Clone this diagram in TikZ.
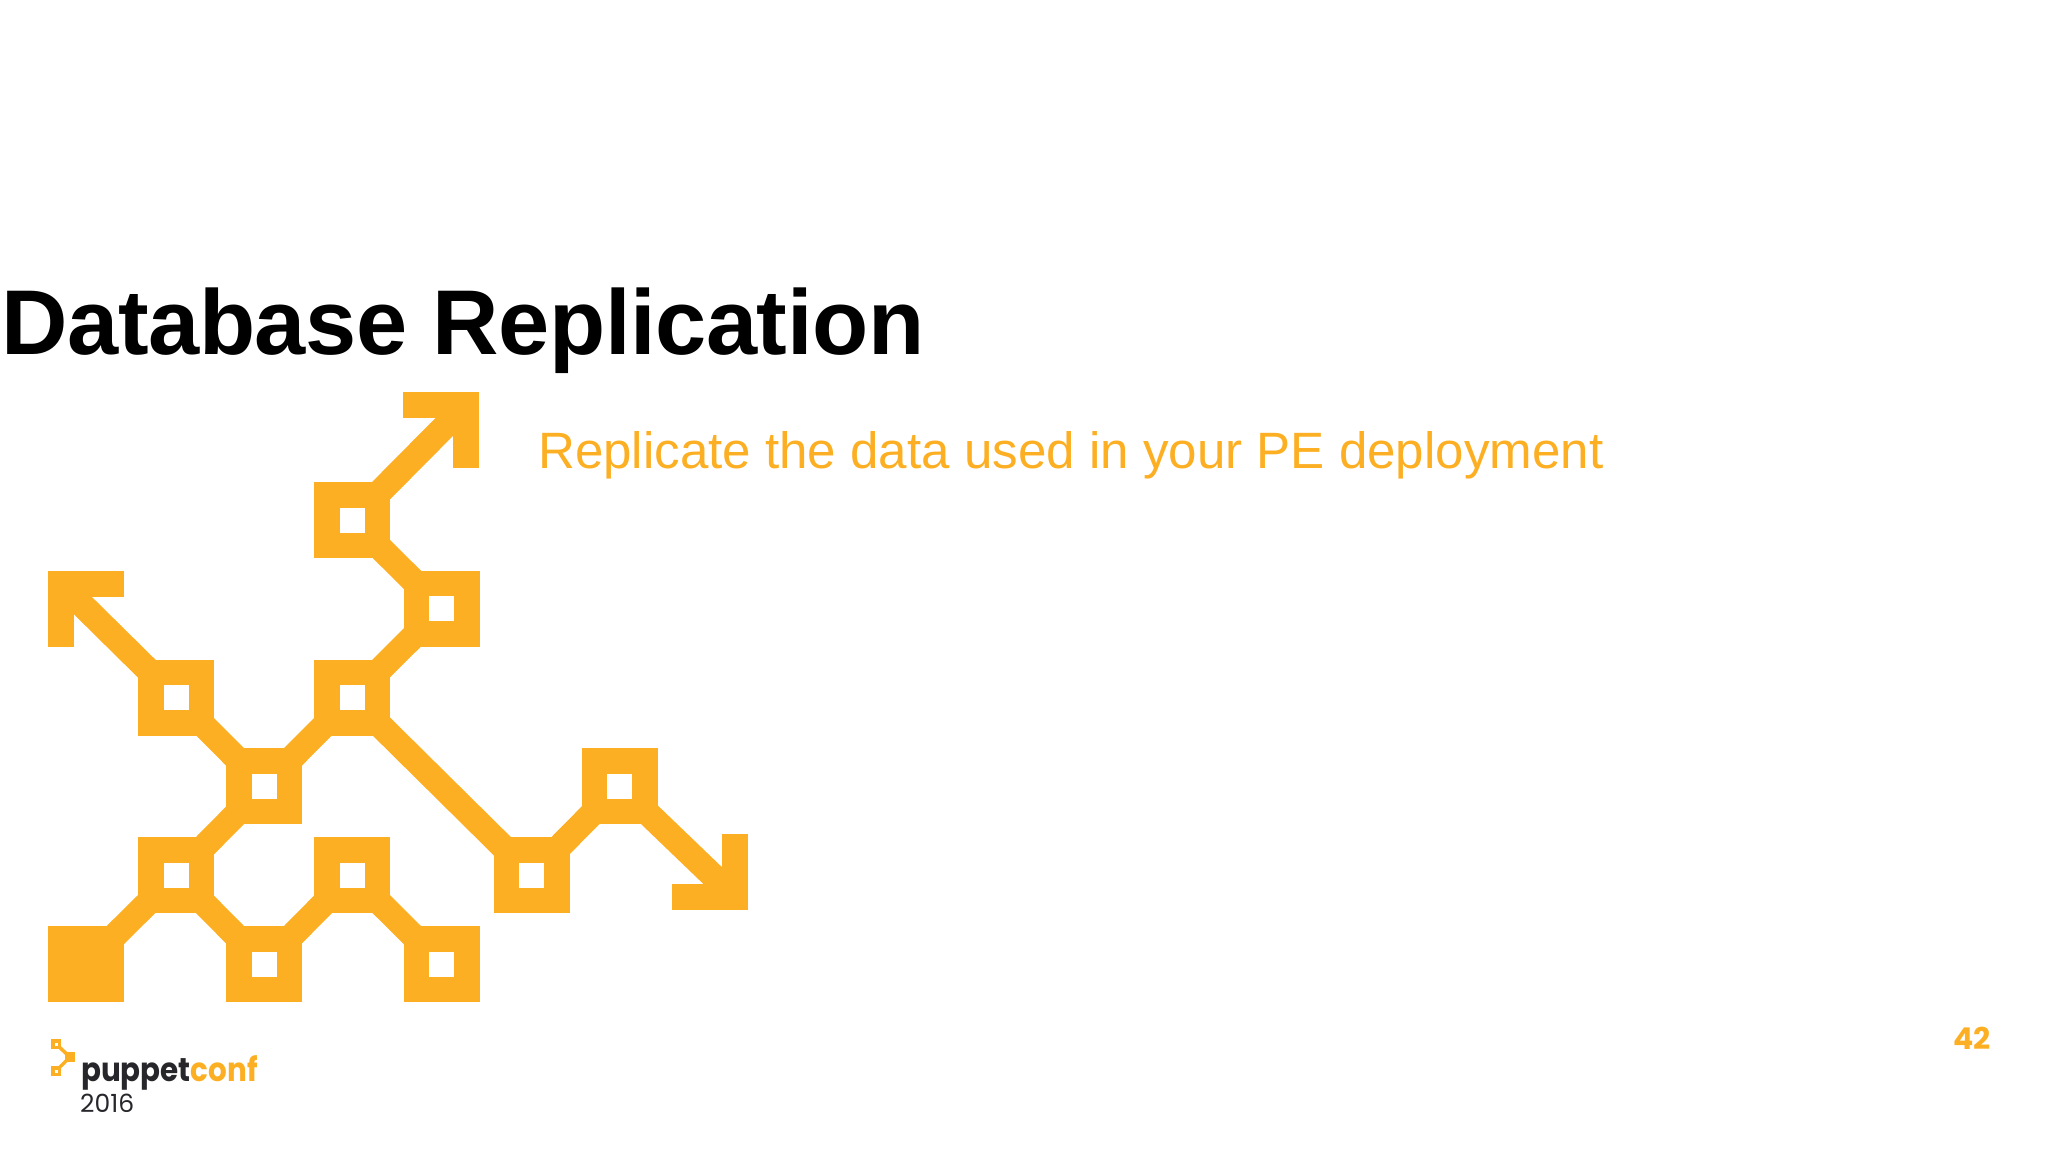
\documentclass[tikz,border=0pt]{standalone}
\usepackage{fontspec}
\setmainfont{Liberation Sans}
\newfontfamily\logofont{Poppins}
\usetikzlibrary{backgrounds}
\definecolor{puppetorange}{HTML}{FCAF23}
\definecolor{puppetdark}{HTML}{26262B}
\tikzset{
	hubbox/.style={draw=puppetorange, fill=white, line width=25.5pt, minimum size=50.5pt, inner sep=0pt, outer sep=0pt},
	rootbox/.style={hubbox, fill=puppetorange},
	link/.style={draw=puppetorange, line width=25pt},
	headline/.style={draw=puppetorange, line width=26pt, miter limit=10},
	minibox/.style={draw=puppetorange, fill=white, line width=3.5pt, minimum size=6.5pt, inner sep=0pt, outer sep=0pt},
	minilink/.style={draw=puppetorange, line width=3.5pt},
	label/.style={inner sep=0pt, anchor=base west}
}
\begin{document}
\begin{tikzpicture}[y=-1pt, x=1pt]
	\useasboundingbox (0,0) rectangle (2048,1152);

	%text
	\node[label, font=\fontsize{92}{92}\selectfont\bfseries\addfontfeature{LetterSpace=-0.45}, text=black] (title) at (1,354) {Database Replication};
	\node[label, font=\fontsize{51.1}{51}\selectfont, text=puppetorange] (subtitle) at (538,468) {Replicate the data used in your PE deployment};
	\node[label, font=\logofont\fontsize{30}{30}\selectfont\bfseries, text=puppetorange] (pagenum) at (1953,1049) {42};

	%tree
	\node[rootbox] (root) at (86,964) {};
	\foreach \name/\x/\y in {a/176/875,b/264/964,c/352/875,d/441.5/964,e/264/786,f/176/697.5,g/352/697.5,h/441.5/608.5,i/352/520,j/531.5/875,k/619.5/786}
		\node[hubbox] (\name) at (\x,\y) {};

	%arrow ends
	\coordinate (tipup) at (466,405);
	\coordinate (tipleft) at (61,584);
	\coordinate (tipright) at (735,897);
	\draw[headline] (tipup) ++(-63,0) -- ++(63,0) -- ++(0,63);
	\draw[headline] (tipleft) ++(63,0) -- ++(-63,0) -- ++(0,63);
	\draw[headline] (tipright) ++(-63,0) -- ++(63,0) -- ++(0,-63);

	%links
	\begin{scope}[on background layer]
		\foreach \from/\to in {root/a,a/b,b/c,c/d,a/e,e/f,e/g,g/h,h/i,g/j,j/k,i/tipup,f/tipleft,k/tipright}
			\draw[link] (\from.center) -- (\to.center);
	\end{scope}

	%logo
	\node[minibox] (logotop) at (56,1044) {};
	\node[minibox] (logobottom) at (56,1071) {};
	\node[minibox, fill=puppetorange] (logomid) at (70,1057) {};
	\begin{scope}[on background layer]
		\draw[minilink] (logotop.center) -- (logomid.center);
		\draw[minilink] (logobottom.center) -- (logomid.center);
	\end{scope}
	\node[label, font=\logofont\fontsize{33}{33}\selectfont\bfseries\addfontfeature{FakeStretch=0.89}] (logoname) at (81,1081) {\textcolor{puppetdark}{puppet}\textcolor{puppetorange}{conf}};
	\node[label, font=\logofont\fontsize{25}{25}\selectfont, text=puppetdark] (logoyear) at (80,1112) {2016};
\end{tikzpicture}
\end{document}
